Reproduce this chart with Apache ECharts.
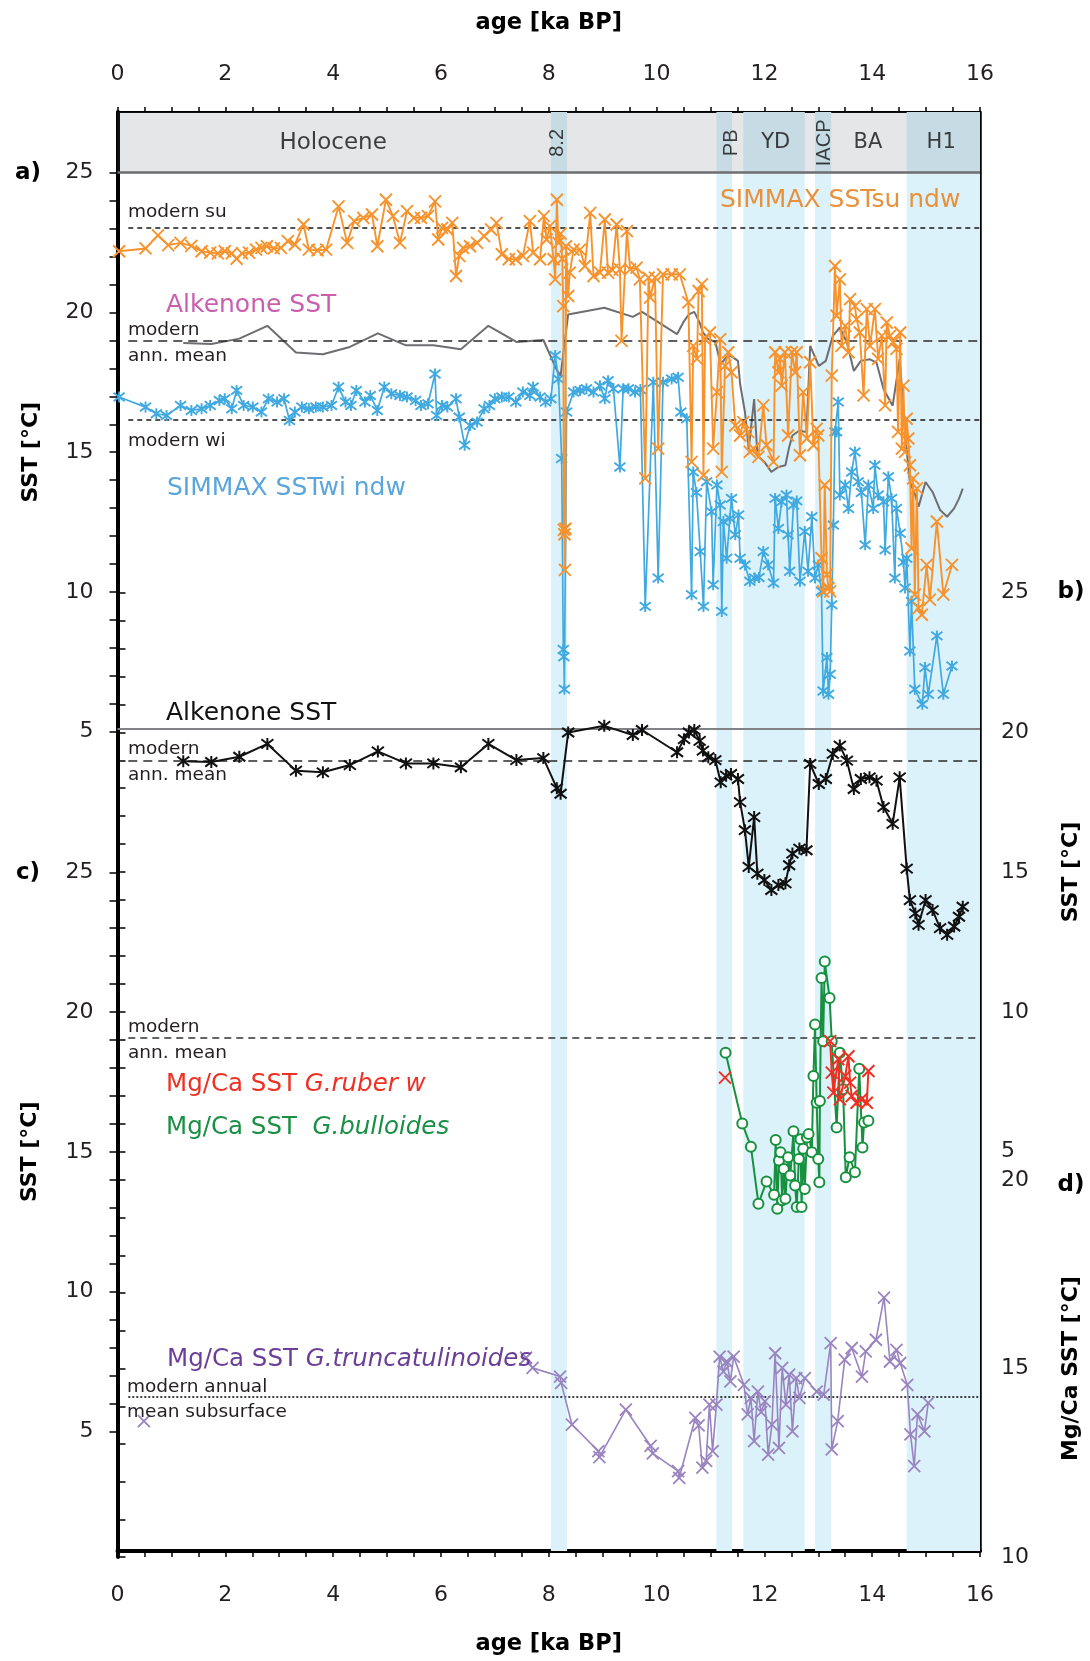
<!DOCTYPE html>
<html>
<head>
<meta charset="utf-8">
<script src="https://cdn.jsdelivr.net/npm/echarts@6/dist/echarts.min.js"></script>
<style>
  html, body { margin: 0; padding: 0; background: #fff; }
  #chart { width: 1090px; height: 1661px; }
</style>
</head>
<body>
<div id="chart"></div>
<script>
// ---------------- data ----------------
// climate events: shaded age intervals [ka BP]
const bandStart = [8.04, 11.11, 11.61, 12.94, 14.64];
const bandEnd   = [8.34, 11.40, 12.75, 13.24, 16.00];

// event names in the header strip, centred on these ages
const eventNames   = ['Holocene', '8.2', 'PB', 'YD', 'IACP', 'BA', 'H1'];
const eventAges    = [4.0, 8.16, 11.25, 12.21, 13.11, 13.92, 15.28];
const eventRotated = [false, true, true, false, true, false, false];

// modern reference temperatures [°C]
const modernSummer = 23.0;
const modernAnnual = 18.95;
const modernWinter = 16.1;
const modernAnnualAlk = 18.9;
const modernSubsurface = 14.1;

// SIMMAX SSTsu ndw [age ka, °C]
const simmaxSu = [
[0.03,22.17],[0.52,22.27],[0.75,22.74],[0.94,22.39],[1.17,22.47],[1.37,22.36],[1.56,22.17],[1.72,22.12],[1.86,22.09],[1.99,22.17],[2.12,22.09],[2.21,21.90],[2.31,22.09],[2.44,22.12],[2.57,22.23],[2.67,22.29],[2.77,22.35],[2.90,22.27],[3.03,22.29],[3.16,22.53],[3.29,22.41],[3.45,23.13],[3.55,22.23],[3.71,22.20],[3.87,22.23],[4.10,23.78],[4.26,22.47],[4.39,23.25],[4.56,23.37],[4.72,23.49],[4.82,22.35],[4.98,24.02],[5.11,23.43],[5.24,22.47],[5.37,23.61],[5.50,23.37],[5.63,23.37],[5.76,23.43],[5.89,23.96],[5.95,22.59],[6.02,23.01],[6.12,22.95],[6.21,23.19],[6.28,21.28],[6.34,22.00],[6.41,22.29],[6.54,22.35],[6.67,22.47],[6.80,22.71],[6.93,22.95],[7.03,23.19],[7.13,22.06],[7.26,21.88],[7.39,21.88],[7.52,22.00],[7.65,23.25],[7.71,22.12],[7.84,21.88],[7.91,23.43],
[7.96,22.59],[8.02,23.07],[8.09,21.88],[8.12,21.16],[8.15,24.02],[8.18,22.47],[8.22,22.80],[8.25,21.90],[8.27,20.20],[8.28,12.16],[8.29,12.00],[8.30,10.72],[8.31,12.20],[8.32,22.35],[8.36,20.56],[8.39,21.40],[8.46,22.23],[8.58,22.23],[8.67,21.64],[8.77,23.55],[8.83,21.28],[8.95,21.40],[9.04,23.31],[9.10,21.40],[9.18,21.50],[9.26,23.13],[9.32,21.52],[9.35,18.95],[9.45,22.89],[9.51,21.52],[9.63,21.58],[9.69,21.16],[9.79,14.01],[9.85,21.22],[9.88,20.50],[9.97,21.22],[10.03,15.08],[10.12,21.34],[10.28,21.34],[10.43,21.34],[10.59,20.33],[10.65,14.60],[10.68,18.77],[10.75,18.30],[10.78,20.74],[10.84,20.98],[10.87,14.12],[10.90,19.01],[10.99,19.25],[11.05,15.08],[11.12,17.11],[11.18,19.01],[11.21,14.24],[11.27,18.05],[11.33,18.54],[11.39,17.82],[11.46,15.91],[11.55,15.55],[11.61,16.03],[11.70,15.68],[11.73,14.96],[11.80,15.08],[11.89,14.78],[11.98,16.63],[12.04,15.20],[12.17,14.60],[12.20,18.54],[12.26,17.82],[12.29,18.30],[12.32,17.34],[12.38,18.54],[12.44,15.55],[12.51,18.54],[12.57,17.82],[12.60,18.54],[12.66,14.84],[12.72,17.11],[12.79,15.44],[12.85,18.18],[12.91,15.20],[12.97,15.79],[13.00,15.55],[13.06,11.14],[13.09,9.95],[13.12,13.77],[13.16,10.55],[13.19,10.07],[13.22,9.95],[13.25,17.70],[13.31,21.64],[13.34,19.85],[13.40,21.16],[13.43,18.77],[13.50,19.49],[13.56,18.54],[13.59,20.45],[13.68,20.20],[13.71,19.73],[13.77,19.25],[13.84,16.99],[13.90,20.09],[13.96,18.77],[14.05,20.09],[14.11,18.30],[14.18,19.13],[14.24,16.63],[14.27,19.61],[14.33,19.13],[14.39,18.90],[14.45,18.66],[14.48,15.68],[14.52,19.25],[14.55,15.08],[14.58,17.34],[14.61,14.96],[14.64,16.15],[14.67,15.44],[14.70,14.48],[14.73,11.50],[14.76,14.01],[14.79,9.83],[14.83,13.65],[14.86,9.35],[14.92,9.11],[15.01,10.90],[15.07,9.65],[15.20,12.46],[15.32,9.83],[15.48,10.90]
];

// SIMMAX SSTwi ndw [age ka, °C]
const simmaxWi = [
[0.03,16.93],[0.52,16.57],[0.72,16.33],[0.91,16.27],[1.17,16.63],[1.37,16.45],[1.56,16.51],[1.72,16.63],[1.89,16.81],[1.99,16.87],[2.12,16.51],[2.21,17.17],[2.34,16.63],[2.51,16.57],[2.67,16.39],[2.80,16.87],[2.96,16.75],[3.09,16.87],[3.19,16.09],[3.29,16.39],[3.42,16.57],[3.55,16.51],[3.68,16.57],[3.81,16.57],[3.97,16.63],[4.10,17.29],[4.23,16.75],[4.33,16.63],[4.43,17.17],[4.59,16.75],[4.69,16.99],[4.82,16.45],[4.95,17.29],[5.08,17.05],[5.24,16.99],[5.37,16.93],[5.53,16.81],[5.63,16.63],[5.76,16.69],[5.89,17.76],[5.92,16.27],[6.02,16.63],[6.12,16.57],[6.28,16.87],[6.34,16.21],[6.44,15.20],[6.54,15.91],[6.67,16.03],[6.80,16.51],[6.90,16.63],[7.00,16.87],[7.13,16.93],[7.26,16.93],[7.39,16.75],[7.52,17.11],[7.65,16.99],[7.71,17.29],[7.84,16.93],[7.94,16.75],
[8.04,16.87],[8.12,18.42],[8.18,17.58],[8.24,14.72],[8.27,7.86],[8.28,7.60],[8.29,6.43],[8.33,16.39],[8.46,17.11],[8.58,17.17],[8.70,17.23],[8.83,17.11],[8.95,17.34],[9.04,16.87],[9.10,17.52],[9.20,17.23],[9.32,14.42],[9.38,17.23],[9.48,17.23],[9.60,17.11],[9.70,17.20],[9.79,9.41],[9.94,17.46],[10.03,10.43],[10.12,17.46],[10.28,17.58],[10.40,17.64],[10.45,16.39],[10.56,16.15],[10.65,9.83],[10.68,14.24],[10.74,13.50],[10.81,11.38],[10.87,9.41],[10.93,13.89],[11.02,12.81],[11.05,10.19],[11.12,13.77],[11.18,13.05],[11.21,9.23],[11.24,12.46],[11.30,11.14],[11.36,12.57],[11.39,13.29],[11.46,11.98],[11.52,12.69],[11.55,11.14],[11.64,10.90],[11.73,10.31],[11.82,10.43],[11.90,10.45],[11.98,11.38],[12.07,10.90],[12.17,10.25],[12.20,13.29],[12.26,12.21],[12.32,13.17],[12.41,13.41],[12.44,11.98],[12.47,10.67],[12.54,13.05],[12.60,13.20],[12.66,10.31],[12.75,12.10],[12.81,10.67],[12.88,12.63],[12.94,10.43],[13.00,10.90],[13.06,9.95],[13.09,6.37],[13.16,7.57],[13.19,6.25],[13.22,6.97],[13.25,9.47],[13.28,12.33],[13.31,15.68],[13.34,15.68],[13.37,16.75],[13.40,13.41],[13.50,13.77],[13.56,12.93],[13.62,14.24],[13.68,14.96],[13.74,13.89],[13.80,13.50],[13.87,11.62],[13.93,13.77],[14.02,12.93],[14.05,14.48],[14.11,13.41],[14.21,13.17],[14.24,11.44],[14.30,14.07],[14.36,13.29],[14.42,10.43],[14.45,12.93],[14.52,12.04],[14.58,11.00],[14.61,10.07],[14.64,11.14],[14.70,7.81],[14.73,9.59],[14.79,6.43],[14.93,5.89],[14.98,7.21],[15.04,6.25],[15.20,8.35],[15.32,6.25],[15.48,7.27]
];

// Alkenone SST [age ka, °C]
const alkenone = [
[1.22,18.87],[1.74,18.84],[2.26,19.03],[2.78,19.49],[3.31,18.53],[3.81,18.47],[4.31,18.73],[4.83,19.22],[5.35,18.79],[5.86,18.79],[6.37,18.65],[6.88,19.49],[7.40,18.91],[7.90,18.98],[8.15,17.90],[8.22,17.70],[8.36,19.90],[9.03,20.14],[9.56,19.81],[9.73,19.99],[10.38,19.19],[10.51,19.66],[10.60,19.90],[10.70,19.99],[10.80,19.60],[10.86,19.25],[10.96,19.01],[11.09,18.91],[11.19,18.11],[11.29,18.35],[11.38,18.41],[11.51,18.23],[11.55,17.40],[11.64,16.39],[11.71,15.07],[11.81,16.86],[11.87,14.83],[12.00,14.60],[12.13,14.24],[12.26,14.42],[12.39,14.48],[12.46,15.13],[12.52,15.55],[12.65,15.73],[12.78,15.67],[12.85,18.77],[13.01,18.05],[13.14,18.23],[13.27,19.13],[13.40,19.43],[13.53,18.89],[13.66,17.87],[13.79,18.23],[13.95,18.29],[14.08,18.17],[14.21,17.22],[14.38,16.62],[14.51,18.29],[14.64,15.01],[14.70,13.88],[14.80,13.40],[14.86,12.99],[14.99,13.88],[15.12,13.52],[15.26,12.87],[15.39,12.63],[15.52,12.93],[15.61,13.28],[15.68,13.64]
];

// Mg/Ca SST G. bulloides [age ka, °C]
const bulloides = [
[11.28,18.40],[11.59,15.86],[11.75,15.03],[11.89,12.98],[12.04,13.78],[12.18,13.30],[12.21,15.27],[12.24,12.80],[12.27,14.53],[12.30,14.83],[12.33,13.10],[12.36,14.23],[12.39,13.16],[12.44,14.65],[12.48,13.99],[12.54,15.58],[12.57,13.63],[12.60,12.86],[12.64,14.59],[12.67,15.30],[12.69,12.86],[12.72,14.95],[12.75,13.51],[12.79,15.36],[12.82,15.48],[12.88,14.83],[12.91,17.57],[12.94,19.42],[12.97,16.61],[13.00,14.59],[13.02,13.75],[13.03,16.67],[13.06,21.09],[13.09,18.82],[13.12,21.68],[13.21,20.37],[13.25,18.82],[13.34,15.72],[13.40,18.40],[13.46,17.09],[13.51,13.93],[13.58,14.65],[13.68,14.11],[13.76,17.83],[13.82,15.00],[13.85,15.90],[13.93,15.96]
];

// Mg/Ca SST G. ruber w [age ka, °C]; null marks a gap in the record
const ruber = [
[11.27,17.51],[12.00,null],[13.22,18.82],[13.25,17.69],[13.28,16.97],[13.37,18.17],[13.40,16.73],[13.50,17.57],[13.56,18.28],[13.59,17.33],[13.62,16.85],[13.71,16.61],[13.80,16.73],[13.90,16.61],[13.93,17.75]
];

// Mg/Ca SST G. truncatulinoides [age ka, °C]; null marks a gap in the record
const truncatulinoides = [
[0.49,13.46],[4.00,null],[7.58,15.15],[7.70,14.88],[8.21,14.65],[8.23,14.48],[8.43,13.37],[8.92,12.66],[8.94,12.50],[9.43,13.77],[9.89,12.80],[9.93,12.60],[10.40,12.13],[10.42,11.95],[10.72,13.55],[10.78,13.35],[10.85,12.22],[10.92,12.40],[10.98,13.90],[11.04,12.66],[11.11,13.90],[11.17,15.18],[11.24,14.78],[11.30,15.05],[11.37,14.52],[11.43,15.18],[11.62,14.43],[11.69,13.64],[11.75,14.08],[11.81,12.93],[11.88,14.25],[11.94,13.70],[12.01,13.99],[12.07,12.57],[12.14,13.37],[12.20,15.27],[12.27,12.75],[12.33,14.88],[12.40,13.90],[12.46,14.70],[12.52,13.19],[12.59,14.61],[12.65,14.08],[12.75,14.61],[12.97,14.25],[13.10,14.17],[13.23,15.54],[13.25,12.71],[13.36,13.46],[13.49,15.10],[13.62,15.41],[13.81,14.65],[13.88,15.32],[14.07,15.63],[14.22,16.75],[14.33,15.05],[14.45,15.36],[14.52,15.01],[14.65,14.43],[14.71,13.11],[14.78,12.26],[14.84,13.64],[14.97,13.19],[15.04,13.95]
];

// ---------------- layout ----------------
const L = 117.5, R = 980, T = 112, B = 1557;   // plot frame in px
const PPU = 27.95;      // px per °C, panels a-c
const PPU_D = 37.68;    // px per °C, panel d
// a value v0 sitting at pixel row y0 -> axis extent over the whole frame
function extent(v0, y0, ppu) {
  return { min: v0 - (B - y0) / ppu, max: v0 + (y0 - T) / ppu };
}
const exA = extent(25, 172.7, PPU);
const exB = extent(20, 732.3, PPU);
const exC = extent(25, 872.3, PPU);
const exD = extent(10, B, PPU_D);
const headerLevel = exA.max - (143 - T) / PPU;

const FONT = 'DejaVu Sans';
const INK = '#231f20';
const C_ORANGE = '#f7922c', C_BLUE = '#3fa9e0', C_GRAY = '#6d6e71';
const C_GREEN = '#17913f', C_RED = '#ee3124', C_PURPLE = '#9a84c0';

const X_SYMBOL = 'path://M0,0L10,10M10,0L0,10';
const STAR_SYMBOL = 'path://M0,0L10,10M10,0L0,10M5,-1.5L5,11.5';

const five = v => {
  const r = Math.round(v);
  return Math.abs(v - r) < 1e-6 && r % 5 === 0 ? String(r) : '';
};

const grids = [
  { left: L, top: T, width: R - L, height: B - T },                 // frame / data
  { left: L, top: 172.7, width: R - L, height: 20 * PPU },          // a ticks
  { left: L, top: 872.3, width: R - L, height: 20 * PPU },          // c ticks
  { left: L, top: 732.3 - 5 * PPU, width: R - L, height: 20 * PPU },// b ticks
  { left: L, top: B - 10 * PPU_D, width: R - L, height: 10 * PPU_D } // d ticks
];

function ageAxis(pos) {
  const top = pos === 'top';
  return {
    type: 'value', gridIndex: 0, position: pos, min: 0, max: 16, interval: 2,
    axisLine: { show: true, onZero: false, lineStyle: { color: '#000', width: top ? 2 : 4 } },
    axisTick: { show: true, inside: false, length: top ? 5 : 6, lineStyle: { color: '#000', width: 1.5 } },
    minorTick: { show: true, splitNumber: 4, length: top ? 5 : 6, lineStyle: { color: '#000', width: 1.5 } },
    splitLine: { show: false },
    axisLabel: { fontFamily: FONT, fontSize: 22, color: INK, margin: top ? 27 : 33 },
    name: 'age [ka BP]', nameLocation: 'middle', nameGap: top ? 77 : 82,
    nameTextStyle: { fontFamily: FONT, fontSize: 22.5, fontWeight: 'bold', color: '#000' }
  };
}
function hiddenX(g) {
  return { type: 'value', gridIndex: g, min: 0, max: 16, show: false };
}
function tickAxis(g, pos, min, max, name, gap, showLine) {
  return {
    type: 'value', gridIndex: g, position: pos, min: min, max: max, interval: 1,
    axisLine: { show: !!showLine, lineStyle: { color: '#000', width: 4 } },
    axisTick: { show: true, inside: false, length: 8, lineStyle: { color: '#000', width: 1.5 } },
    splitLine: { show: false },
    axisLabel: { formatter: five, fontFamily: FONT, fontSize: 22, color: INK, margin: 24,
                 showMinLabel: true, showMaxLabel: true },
    name: name, nameLocation: 'middle', nameRotate: 90, nameGap: gap,
    nameTextStyle: { fontFamily: FONT, fontSize: 22, fontWeight: 'bold', color: '#000' }
  };
}

const yAxes = [
  { type: 'value', gridIndex: 0, position: 'left', min: exA.min, max: exA.max,
    axisLine: { show: true, onZero: false, lineStyle: { color: '#000', width: 4 } },
    axisTick: { show: false }, axisLabel: { show: false }, splitLine: { show: false } },
  { type: 'value', gridIndex: 0, position: 'right', min: exB.min, max: exB.max,
    axisLine: { show: true, onZero: false, lineStyle: { color: '#000', width: 2.5 } },
    axisTick: { show: false }, axisLabel: { show: false }, splitLine: { show: false } },
  { type: 'value', gridIndex: 0, min: exC.min, max: exC.max, show: false },
  { type: 'value', gridIndex: 0, min: exD.min, max: exD.max, show: false },
  tickAxis(1, 'left', 5, 25, 'SST [°C]', 75),
  tickAxis(2, 'left', 5, 25, 'SST [°C]', 76),
  tickAxis(3, 'right', 5, 25, 'SST [°C]', 83),
  tickAxis(4, 'right', 10, 20, 'Mg/Ca SST [°C]', 83, true)
];

function hline(v, style, x0) {
  return [{ coord: [x0 === undefined ? 0.2 : x0, v], lineStyle: style }, { coord: [16, v] }];
}
const dashShort = { color: '#1a1a1a', width: 1.7, type: [5, 4] };
const dashLong  = { color: '#2a2a2a', width: 1.7, type: [9, 6] };

function refSeries(yIdx, lines) {
  return {
    type: 'line', xAxisIndex: 0, yAxisIndex: yIdx, data: [], z: 3, silent: true,
    markLine: { silent: true, symbol: 'none', animation: false, label: { show: false }, data: lines }
  };
}

function dataSeries(name, yIdx, data, opt) {
  return Object.assign({
    name: name, type: 'line', xAxisIndex: 0, yAxisIndex: yIdx, data: data,
    showAllSymbol: true, connectNulls: false, animation: false, silent: true
  }, opt);
}

const series = [
  // event bands
  { type: 'line', xAxisIndex: 0, yAxisIndex: 0, data: [], z: 1, silent: true,
    markArea: { silent: true, itemStyle: { color: '#dcf2fb' },
      data: bandStart.map((s, i) => [{ xAxis: s }, { xAxis: bandEnd[i] }]) } },
  // header strip
  { type: 'line', xAxisIndex: 0, yAxisIndex: 0, data: [], z: 2, silent: true,
    markArea: { silent: true, itemStyle: { color: 'rgba(95,100,110,0.16)' },
      data: [[{ yAxis: 25 }, { yAxis: exA.max }]] } },
  refSeries(0, [
    hline(25, { color: '#6d6e71', width: 2.5, type: 'solid' }, 0),
    hline(5, { color: '#808285', width: 2, type: 'solid' }, 0),
    hline(modernSummer, dashShort),
    hline(modernAnnual, dashLong),
    hline(modernWinter, dashShort)
  ]),
  refSeries(1, [hline(modernAnnualAlk, dashLong)]),
  refSeries(2, [hline(modernAnnual, { color: '#333', width: 1.7, type: [7, 5] })]),
  refSeries(3, [hline(modernSubsurface, { color: '#111', width: 1.6, type: [2, 2] })]),

  dataSeries('Alkenone SST (a)', 0, alkenone, {
    symbol: 'none', lineStyle: { color: C_GRAY, width: 2 }, z: 4 }),
  dataSeries('SIMMAX SSTwi ndw', 0, simmaxWi, {
    symbol: STAR_SYMBOL, symbolSize: 11,
    lineStyle: { color: C_BLUE, width: 1.7 },
    itemStyle: { color: 'rgba(0,0,0,0)', borderColor: C_BLUE, borderWidth: 1.9 }, z: 5 }),
  dataSeries('SIMMAX SSTsu ndw', 0, simmaxSu, {
    symbol: X_SYMBOL, symbolSize: 12,
    lineStyle: { color: C_ORANGE, width: 1.9 },
    itemStyle: { color: 'rgba(0,0,0,0)', borderColor: C_ORANGE, borderWidth: 1.9 }, z: 6 }),
  dataSeries('Alkenone SST', 1, alkenone, {
    symbol: STAR_SYMBOL, symbolSize: 12,
    lineStyle: { color: '#111', width: 2 },
    itemStyle: { color: 'rgba(0,0,0,0)', borderColor: '#111', borderWidth: 2 }, z: 6 }),
  dataSeries('Mg/Ca SST G.bulloides', 2, bulloides, {
    symbol: 'emptyCircle', symbolSize: 10,
    lineStyle: { color: C_GREEN, width: 2 },
    itemStyle: { color: C_GREEN, borderWidth: 2.2 }, z: 6 }),
  dataSeries('Mg/Ca SST G.ruber w', 2, ruber, {
    symbol: X_SYMBOL, symbolSize: 12,
    lineStyle: { color: C_RED, width: 2 },
    itemStyle: { color: 'rgba(0,0,0,0)', borderColor: C_RED, borderWidth: 2 }, z: 7 }),
  dataSeries('Mg/Ca SST G.truncatulinoides', 3, truncatulinoides, {
    symbol: X_SYMBOL, symbolSize: 12,
    lineStyle: { color: C_PURPLE, width: 1.6 },
    itemStyle: { color: 'rgba(0,0,0,0)', borderColor: C_PURPLE, borderWidth: 1.8 }, z: 6 }),

  // event names in the header strip
  { type: 'scatter', xAxisIndex: 0, yAxisIndex: 0, z: 8, silent: true, symbolSize: 1,
    itemStyle: { color: 'rgba(0,0,0,0)' },
    data: eventNames.map((n, i) => ({
      value: [eventAges[i], headerLevel],
      label: eventRotated[i]
        ? { formatter: n, rotate: 90, fontFamily: 'Liberation Sans', fontSize: 20,
            offset: n === 'PB' ? [0, 8] : [0, 0] }
        : { formatter: n, rotate: 0, fontFamily: FONT, fontSize: n === 'Holocene' ? 23 : 21 }
    })),
    label: { show: true, position: 'inside', color: '#111' } }
];

// free text annotations (px)
const notes = [
  { x: 128, y: 212, t: 'modern su', s: 18.5, c: INK },
  { x: 128, y: 330, t: 'modern', s: 18.5, c: INK },
  { x: 128, y: 356, t: 'ann. mean', s: 18.5, c: INK },
  { x: 128, y: 441, t: 'modern wi', s: 18.5, c: INK },
  { x: 166, y: 305, t: 'Alkenone SST', s: 25, c: '#c95fae' },
  { x: 167, y: 488, t: 'SIMMAX SSTwi ndw', s: 25, c: '#5aa5db' },
  { x: 720, y: 200, t: 'SIMMAX SSTsu ndw', s: 25, c: '#e8913c' },
  { x: 166, y: 713, t: 'Alkenone SST', s: 25, c: '#111' },
  { x: 128, y: 749, t: 'modern', s: 18.5, c: INK },
  { x: 128, y: 775, t: 'ann. mean', s: 18.5, c: INK },
  { x: 128, y: 1027, t: 'modern', s: 18.5, c: INK },
  { x: 128, y: 1053, t: 'ann. mean', s: 18.5, c: INK },
  { x: 127, y: 1387, t: 'modern annual', s: 18.5, c: INK },
  { x: 127, y: 1412, t: 'mean subsurface', s: 18.5, c: INK }
];
const richNotes = [
  { x: 166, y: 1085, a: 'Mg/Ca SST ', b: 'G.ruber w', c: '#ee3124' },
  { x: 166, y: 1128, a: 'Mg/Ca SST  ', b: 'G.bulloides', c: '#1a8f45' },
  { x: 167, y: 1360, a: 'Mg/Ca SST ', b: 'G.truncatulinoides', c: '#6b3f98' }
];
const panelTags = [
  { x: 28, y: 173, t: 'a)' }, { x: 28, y: 873, t: 'c)' },
  { x: 1071, y: 592, t: 'b)' }, { x: 1071, y: 1185, t: 'd)' }
];

const graphic = [].concat(
  notes.map(n => ({
    type: 'text', x: n.x, y: n.y, z: 100, silent: true,
    style: { text: n.t, fill: n.c, font: n.s + 'px "' + FONT + '"',
             align: 'left', verticalAlign: 'middle', textAlign: 'left', textVerticalAlign: 'middle' }
  })),
  richNotes.map(n => ({
    type: 'text', x: n.x, y: n.y, z: 100, silent: true,
    style: {
      text: '{a|' + n.a + '}{b|' + n.b + '}',
      align: 'left', verticalAlign: 'middle', textAlign: 'left', textVerticalAlign: 'middle',
      rich: {
        a: { fill: n.c, color: n.c, fontFamily: FONT, fontSize: 24.5 },
        b: { fill: n.c, color: n.c, fontFamily: FONT, fontSize: 24.5, fontStyle: 'italic' }
      }
    }
  })),
  panelTags.map(p => ({
    type: 'text', x: p.x, y: p.y, z: 100, silent: true,
    style: { text: p.t, fill: '#000', font: 'bold 23px "' + FONT + '"',
             align: 'center', verticalAlign: 'middle', textAlign: 'center', textVerticalAlign: 'middle' }
  }))
);

const chart = echarts.init(document.getElementById('chart'), null, { renderer: 'canvas' });
chart.setOption({
  backgroundColor: '#fff',
  animation: false,
  grid: grids,
  xAxis: [ageAxis('top'), ageAxis('bottom'), hiddenX(1), hiddenX(2), hiddenX(3), hiddenX(4)],
  yAxis: yAxes,
  series: series,
  graphic: graphic
});
</script>
</body>
</html>
